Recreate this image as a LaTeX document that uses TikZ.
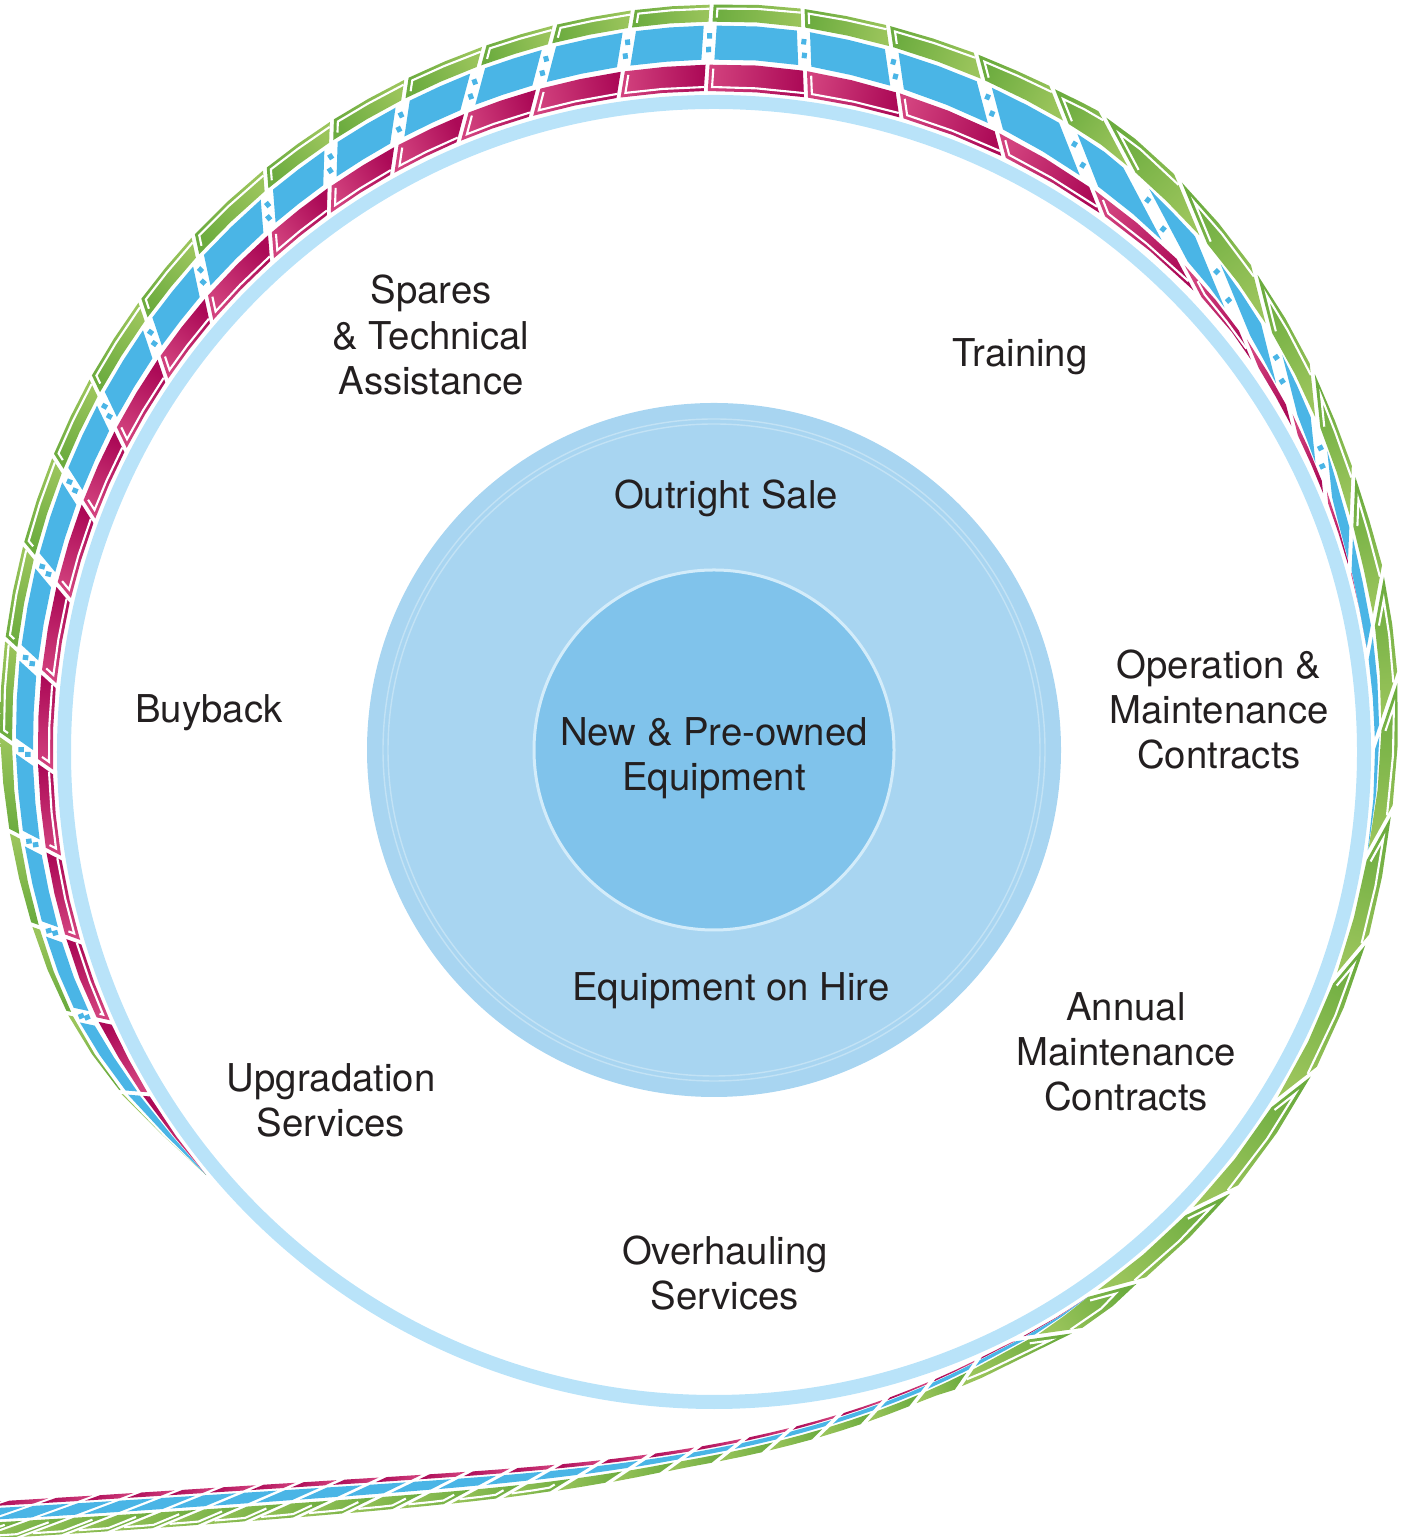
\documentclass[tikz,border=0pt]{standalone}
\usepackage{fontspec}
\setmainfont{TeX Gyre Heros}
\usetikzlibrary{positioning}
\definecolor{ringblue}{HTML}{B9E3F9}
\definecolor{diskblue}{HTML}{A8D5F1}
\definecolor{coreblue}{HTML}{80C3EB}
\definecolor{coreline}{HTML}{D3ECFA}
\definecolor{filmblue}{HTML}{4AB5E6}
\definecolor{magL}{HTML}{D2427E}
\definecolor{magD}{HTML}{AC0A57}
\definecolor{grnD}{HTML}{6CAC3F}
\definecolor{grnL}{HTML}{9AC45B}
\definecolor{ink}{HTML}{231F20}
\tikzset{
  declare function={
    rin(\t)=661+12.5*(exp(0.05*max(0,-65-(\t)))-1);
    drin(\t)=ifthenelse((\t)<-65,-0.625*exp(0.05*(-65-(\t))),0);
    wm(\t)=max(0,min(((\t)-15)*0.386,27-((\t)-85)*0.1263,(218-(\t))*0.722))+max(0,min((-55-(\t))*0.2,3+(-90-(\t))*0.08));
    wb(\t)=max(0,min(max(0.4*((\t)+10),28+0.64*((\t)-45)),34,34-((\t)-95)*0.2,220-(\t)))+max(0,min((-55-(\t))*0.4,max(3.5+(-65-(\t))*0.04,4+(-90-(\t))*0.29)));
    wg(\t)=max(max(0,min(17+max(0,((\t)-20)*0.25),max(17,24-max(0,(\t)-50)*0.175),17-((\t)-135)*0.11,(214-(\t))*0.35,17+((\t)+60))),ifthenelse((\t)<-60,7+max(0,-90-(\t))*0.37,0));
    tilt(\t)=ifthenelse((\t)<-62,60,max(-70,min(35,1.8*((\t)-88))));
  }
}
% strip values at one angle: #1 tag, #2 angle
\newcommand\getstrip[2]{%
  \pgfmathsetmacro\tmpT{#2}%
  \pgfmathsetmacro\tmpR{rin(\tmpT)}%
  \pgfmathsetmacro\tmpM{wm(\tmpT)}%
  \pgfmathsetmacro\tmpB{wb(\tmpT)}%
  \pgfmathsetmacro\tmpG{wg(\tmpT)}%
  \pgfmathsetmacro\tmpSb{\tmpM+min(5,\tmpM/2)}%
  \pgfmathsetmacro\tmpSc{\tmpSb+\tmpB}%
  \pgfmathsetmacro\tmpSd{\tmpSc+min(4,\tmpB/2)}%
  \pgfmathsetmacro\tmpSe{\tmpSd+\tmpG}%
  \pgfmathsetmacro\tmpRef{(\tmpSb+\tmpSc)/2}%
  \pgfmathsetmacro\tmpPhi{tilt(\tmpT)}%
  \pgfmathsetmacro\tmpK{tan(\tmpPhi)}%
  \pgfmathsetmacro\tmpC{1/cos(\tmpPhi)}%
  \pgfmathsetmacro\tmpDr{drin(\tmpT)}%
  \pgfmathsetmacro\tmpTx{\tmpDr*cos(\tmpT)-\tmpR*0.017453*sin(\tmpT)}%
  \pgfmathsetmacro\tmpTy{\tmpDr*sin(\tmpT)+\tmpR*0.017453*cos(\tmpT)}%
  \pgfmathsetmacro\tmpN{sqrt(\tmpTx*\tmpTx+\tmpTy*\tmpTy)}%
  \pgfmathsetmacro\tmpTx{\tmpTx/\tmpN}%
  \pgfmathsetmacro\tmpTy{\tmpTy/\tmpN}%
  \expandafter\let\csname fm#1t\endcsname\tmpT
  \expandafter\let\csname fm#1R\endcsname\tmpR
  \expandafter\let\csname fm#1M\endcsname\tmpM
  \expandafter\let\csname fm#1B\endcsname\tmpB
  \expandafter\let\csname fm#1G\endcsname\tmpG
  \expandafter\def\csname fm#1Z\endcsname{0}%
  \expandafter\let\csname fm#1Sa\endcsname\tmpM
  \expandafter\let\csname fm#1Sb\endcsname\tmpSb
  \expandafter\let\csname fm#1Sc\endcsname\tmpSc
  \expandafter\let\csname fm#1Sd\endcsname\tmpSd
  \expandafter\let\csname fm#1Se\endcsname\tmpSe
  \expandafter\let\csname fm#1Ref\endcsname\tmpRef
  \expandafter\let\csname fm#1K\endcsname\tmpK
  \expandafter\let\csname fm#1C\endcsname\tmpC
  \expandafter\let\csname fm#1Tx\endcsname\tmpTx
  \expandafter\let\csname fm#1Ty\endcsname\tmpTy
}
% corner: #1 name, #2 side, #3 offset key, #4 extra offset, #5 gap
\newcommand\setpt[5]{%
  \edef\qt{\csname fm#2t\endcsname}%
  \edef\qr{\csname fm#2R\endcsname}%
  \edef\qref{\csname fm#2Ref\endcsname}%
  \edef\qk{\csname fm#2K\endcsname}%
  \edef\qc{\csname fm#2C\endcsname}%
  \edef\qtx{\csname fm#2Tx\endcsname}%
  \edef\qty{\csname fm#2Ty\endcsname}%
  \edef\qs{\csname fm#2#3\endcsname}%
  \pgfmathsetmacro\tmpS{\qs+(#4)}%
  \pgfmathsetmacro\tmpU{-(\tmpS-\qref)*\qk+(#5)*\qc}%
  \pgfmathsetmacro\tmpX{(\qr+\tmpS)*cos(\qt)+\tmpU*\qtx}%
  \pgfmathsetmacro\tmpY{(\qr+\tmpS)*sin(\qt)+\tmpU*\qty}%
  \pgfmathsetmacro\tmpA{atan2(\tmpY,\tmpX)}%
  \coordinate (#1) at (\tmpX,\tmpY);%
}
% one frame of the film strip between two angles
\newcommand\filmframe[2]{%
  \getstrip{A}{#1}\getstrip{B}{#2}\getstrip{M}{(#1+#2)/2}%
  % magenta
  \pgfmathtruncatemacro\ok{max(\fmAM,\fmBM,\fmMM)>0.5 ? 1 : 0}%
  \ifnum\ok=1
    \setpt{p1}{A}{Z}{0}{2}\setpt{p2}{M}{Z}{0}{0}\setpt{p3}{B}{Z}{0}{-2}%
    \setpt{p4}{B}{Sa}{0}{-2}\setpt{p5}{M}{Sa}{0}{0}\setpt{p6}{A}{Sa}{0}{2}%
    \path[magframe, shading angle=\fmMt] (p1) -- (p2) -- (p3) -- (p4) -- (p5) -- (p6) -- cycle;
    \pgfmathtruncatemacro\ok{\fmMM>11 ? 1 : 0}%
    \ifnum\ok=1
      \setpt{q1}{B}{Sa}{-4}{-6}\setpt{q2}{B}{Z}{4}{-6}\setpt{q3}{M}{Z}{4}{0}\setpt{q4}{A}{Z}{4}{2}%
      \draw[inset] (q1) -- (q2) -- (q3) -- (q4);
    \fi
  \fi
  % blue, with sprocket holes
  \pgfmathtruncatemacro\ok{max(\fmAB,\fmBB,\fmMB)>0.5 ? 1 : 0}%
  \ifnum\ok=1
    \pgfmathsetmacro\gA{(\fmAB>12 && \fmAt>-60) ? 6.5 : 2}%
    \pgfmathsetmacro\gB{(\fmBB>12 && \fmBt>-60) ? 6.5 : 2}%
    \setpt{p1}{A}{Sb}{0}{\gA}\setpt{p2}{M}{Sb}{0}{0}\setpt{p3}{B}{Sb}{0}{-\gB}%
    \setpt{p4}{B}{Sc}{0}{-\gB}\setpt{p5}{M}{Sc}{0}{0}\setpt{p6}{A}{Sc}{0}{\gA}%
    \fill[filmblue] (p1) -- (p2) -- (p3) -- (p4) -- (p5) -- (p6) -- cycle;
    \pgfmathtruncatemacro\ok{(\fmAB>12 && \fmAt>-60) ? 1 : 0}%
    \ifnum\ok=1
      \setpt{h1}{A}{Sb}{\fmAB*0.3}{0}\node[sprocket, rotate=\tmpA] (hole1) at (h1) {};
      \setpt{h2}{A}{Sb}{\fmAB*0.7}{0}\node[sprocket, rotate=\tmpA] (hole2) at (h2) {};
    \fi
  \fi
  % green
  \pgfmathtruncatemacro\ok{max(\fmAG,\fmBG,\fmMG)>0.5 ? 1 : 0}%
  \ifnum\ok=1
    \setpt{p1}{A}{Sd}{0}{2}\setpt{p2}{M}{Sd}{0}{0}\setpt{p3}{B}{Sd}{0}{-2}%
    \setpt{p4}{B}{Se}{0}{-2}\setpt{p5}{M}{Se}{0}{0}\setpt{p6}{A}{Se}{0}{2}%
    \path[grnframe, shading angle=\fmMt] (p1) -- (p2) -- (p3) -- (p4) -- (p5) -- (p6) -- cycle;
    \pgfmathtruncatemacro\ok{\fmMG>11 ? 1 : 0}%
    \ifnum\ok=1
      \setpt{q1}{A}{Se}{-4}{2}\setpt{q2}{M}{Se}{-4}{0}\setpt{q3}{B}{Se}{-4}{-6}\setpt{q4}{B}{Sd}{4}{-6}%
      \draw[inset] (q1) -- (q2) -- (q3) -- (q4);
    \fi
  \fi
}

\begin{document}
\begin{tikzpicture}[x=0.01cm, y=0.01cm,
  svc/.style={font=\fontsize{10.9pt}{12.8pt}\selectfont, text=ink, align=center, inner sep=0pt},
  magframe/.style={top color=magL, bottom color=magD},
  grnframe/.style={top color=grnD, bottom color=grnL},
  inset/.style={draw=white, line width=0.6pt},
  sprocket/.style={fill=filmblue, draw=none, inner sep=0pt, minimum width=0.055cm, minimum height=0.05cm}]
  \useasboundingbox (0,0) rectangle (1405,1537);
  \clip (0,0) rectangle (1405,1537);
  \coordinate (C) at (714,785);
  \coordinate (hub) at (714,787);

  % outer ring
  \draw[ringblue, line width=0.14cm] (C) circle (650);

  % film strip spiral
  \begin{scope}[shift={(C)}]
    \foreach \b [remember=\b as \a (initially -140)] in {-138.2,-136.4,-134.6,-132.8,-131,-129.2,-127.3,-125.3,-123.2,-121,-118.6,-116,-113.2,-110.2,-107,-103.6,-100,-96.2,-92.3,-88.3,-84.2,-80,-75.8,-71.5,-67,-62,-55,-44,-32,-20,-9,1.3,9.5,17.7,25.9,34.1,42.5,50.6,58.6,66.9,75.2,82.7,90.4,97.1,103.9,110,116.5,123.1,129.5,137.1,143.6,150.7,157.5,164.8,172.4,180,187.6,195.2,202.8,210.4,220}
      {\filmframe{\a}{\b}}
  \end{scope}

  % inner disks
  \fill[diskblue] (hub) circle (347);
  \draw[white!30!diskblue, line width=0.4pt] (hub) circle (331);
  \draw[white!30!diskblue, line width=0.4pt] (hub) circle (326);
  \fill[coreblue] (hub) circle (180);
  \draw[coreline, line width=0.03cm] (hub) circle (180);

  % labels
  \node[svc] (core) at (714,779) {New \& Pre-owned\\Equipment};
  \node[svc] (sale) at (726,1039) {Outright Sale};
  \node[svc] (hire) at (731,546) {Equipment on Hire};
  \node[svc] (spares) at (431,1202) {Spares\\\& Technical\\Assistance};
  \node[svc] (training) at (1020,1180) {Training};
  \node[svc] (buyback) at (209,824) {Buyback};
  \node[svc] (om) at (1219,827) {Operation \&\\Maintenance\\Contracts};
  \node[svc] (amc) at (1126,485) {Annual\\Maintenance\\Contracts};
  \node[svc] (upgrade) at (331,437) {Upgradation\\Services};
  \node[svc] (overhaul) at (725,264) {Overhauling\\Services};
\end{tikzpicture}
\end{document}
